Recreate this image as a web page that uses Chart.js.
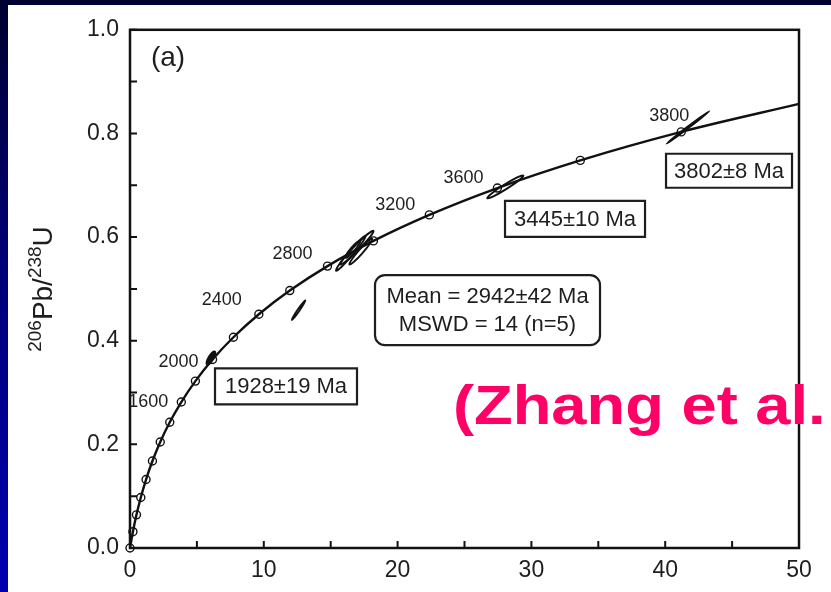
<html>
  <head>
    <meta charset="UTF-8">
    <title>Concordia (a)</title>
    <script src="https://cdn.jsdelivr.net/npm/chart.js"></script>
    <style>
  body {
    margin: 0;
    width: 831px;
    height: 592px;
    overflow: hidden;
    background: linear-gradient(180deg, #000030 0%, #000078 45%, #0000b0 100%);
  }
  #panel {
    position: absolute;
    left: 8px;
    top: 5px;
    width: 823px;
    height: 587px;
    background: #ffffff;
  }
</style>
  </head>
  <body>
    <div id="panel"><canvas id="concordia" width="823" height="587"></canvas></div>
    <script>
    // ages along the concordia (Ma) and their ratios
    const ages = [0, 200, 400, 600, 800, 1000, 1200, 1400, 1600, 1800, 2000, 2200, 2400, 2600, 2800, 3000, 3200, 3400, 3600, 3800];
    const pb207u235 = [0, 0.218, 0.483, 0.806, 1.199, 1.677, 2.260, 2.970, 3.835, 4.887, 6.169, 7.729, 9.629, 11.943, 14.761, 18.193, 22.372, 27.459, 33.654, 41.198];
    const pb206u238 = [0, 0.0315, 0.0640, 0.0975, 0.1321, 0.1678, 0.2046, 0.2426, 0.2817, 0.3221, 0.3638, 0.4067, 0.4511, 0.4968, 0.5440, 0.5926, 0.6428, 0.6946, 0.7480, 0.8030];
    // where the curve leaves the frame
    const tailX = [50];
    const tailY = [0.857];

    // ages that carry a label, and their text
    const labelAges = [1600, 2000, 2400, 2800, 3200, 3400, 3800];
    const labelText = ['1600', '2000', '2400', '2800', '3200', '3600', '3800'];

    // error ellipses: long axis end points [x1, y1, x2, y2]
    const ellipses = [
      [5.75, 0.354, 6.35, 0.379],
      [12.1, 0.440, 13.1, 0.478],
      [15.4, 0.535, 17.6, 0.602],
      [15.7, 0.547, 18.2, 0.612],
      [16.1, 0.560, 17.2, 0.593],
      [16.4, 0.547, 18.1, 0.597],
      [26.7, 0.675, 29.4, 0.719],
      [40.1, 0.780, 43.3, 0.843]
    ];

    const xTicks = [0, 10, 20, 30, 40, 50];
    const yTicks = ['0.0', '0.2', '0.4', '0.6', '0.8', '1.0'];

    const FONT = '"Liberation Sans", Arial, sans-serif';
    const INK = '#1e1e1e';

    const curvePts = pb207u235.concat(tailX).map((x, i) => ({ x: x, y: pb206u238.concat(tailY)[i] }));
    const agePts = pb207u235.map((x, i) => ({ x: x, y: pb206u238[i] }));

    // small helper for the annotation boxes
    function box(ctx, cx, cy, w, h, r) {
      ctx.beginPath();
      if (r) ctx.roundRect(cx - w / 2, cy - h / 2, w, h, r);
      else ctx.rect(cx - w / 2, cy - h / 2, w, h);
      ctx.fillStyle = '#fff';
      ctx.fill();
      ctx.lineWidth = 2.2;
      ctx.strokeStyle = INK;
      ctx.stroke();
    }

    const decorations = {
      id: 'decorations',
      afterDatasetsDraw(chart) {
        const ctx = chart.ctx;
        const xs = chart.scales.x, ys = chart.scales.y;
        const a = chart.chartArea;
        ctx.save();

        // error ellipses
        const minor = [2.4, 1.0, 2.4, 2.6, 2.0, 2.2, 2.4, 0.8];
        ellipses.forEach((e, i) => {
          const x1 = xs.getPixelForValue(e[0]), y1 = ys.getPixelForValue(e[1]);
          const x2 = xs.getPixelForValue(e[2]), y2 = ys.getPixelForValue(e[3]);
          const len = Math.hypot(x2 - x1, y2 - y1) / 2;
          const ang = Math.atan2(y2 - y1, x2 - x1);
          ctx.beginPath();
          ctx.ellipse((x1 + x2) / 2, (y1 + y2) / 2, len, minor[i], ang, 0, Math.PI * 2);
          ctx.lineWidth = 1.9;
          ctx.strokeStyle = '#111';
          ctx.stroke();
          if (i === 0) { ctx.fillStyle = '#111'; ctx.fill(); }
        });

        // frame
        ctx.lineWidth = 2.5;
        ctx.strokeStyle = '#111';
        ctx.strokeRect(a.left, a.top, a.right - a.left, a.bottom - a.top);

        // inward ticks on left and bottom
        ctx.lineWidth = 2;
        ctx.beginPath();
        xs.ticks.forEach(t => {
          const px = xs.getPixelForValue(t.value);
          ctx.moveTo(px, a.bottom); ctx.lineTo(px, a.bottom - 7);
        });
        ys.ticks.forEach(t => {
          const py = ys.getPixelForValue(t.value);
          ctx.moveTo(a.left, py); ctx.lineTo(a.left + 7, py);
        });
        ctx.stroke();

        // age labels along the curve
        const offs = [[-33, 0], [-34, 3], [-37, -14], [-35, -12], [-34, -10], [-34, -10], [-12, -16]];
        ctx.fillStyle = INK;
        ctx.font = '18px ' + FONT;
        ctx.textAlign = 'center';
        ctx.textBaseline = 'middle';
        labelAges.forEach((age, i) => {
          const k = ages.indexOf(age);
          const px = xs.getPixelForValue(pb207u235[k]), py = ys.getPixelForValue(pb206u238[k]);
          ctx.fillText(labelText[i], px + offs[i][0], py + offs[i][1]);
        });

        // panel tag
        ctx.font = '28px ' + FONT;
        ctx.fillText('(a)', xs.getPixelForValue(2.84), ys.getPixelForValue(0.945));

        // boxed ages
        ctx.font = '22px ' + FONT;
        [['1928±19 Ma', 11.66, 0.312, 142, 36],
         ['3445±10 Ma', 33.26, 0.635, 140, 36],
         ['3802±8 Ma', 44.77, 0.728, 126, 34]].forEach(b => {
          const cx = xs.getPixelForValue(b[1]), cy = ys.getPixelForValue(b[2]);
          box(ctx, cx, cy, b[3], b[4], 0);
          ctx.fillStyle = INK;
          ctx.fillText(b[0], cx, cy + 1);
        });

        // mean box
        const mx = xs.getPixelForValue(26.72), my = ys.getPixelForValue(0.459);
        box(ctx, mx, my, 225, 70, 10);
        ctx.fillStyle = INK;
        ctx.fillText('Mean = 2942±42 Ma', mx, my - 13);
        ctx.fillText('MSWD = 14 (n=5)', mx, my + 15);

        // y axis title 206Pb/238U
        ctx.translate(32, 284);
        ctx.rotate(-Math.PI / 2);
        const big = '28px ' + FONT, small = '19px ' + FONT;
        const parts = [['206', small, -11], ['Pb/', big, 0], ['238', small, -11], ['U', big, 0]];
        let total = 0;
        parts.forEach(p => { ctx.font = p[1]; total += ctx.measureText(p[0]).width; });
        let x = -total / 2;
        ctx.textAlign = 'left';
        ctx.textBaseline = 'alphabetic';
        parts.forEach(p => {
          ctx.font = p[1];
          ctx.fillText(p[0], x, 12 + p[2]);
          x += ctx.measureText(p[0]).width;
        });
        ctx.restore();

        // citation overlay
        ctx.save();
        ctx.translate(xs.getPixelForValue(24.14), ys.getPixelForValue(0.239));
        ctx.scale(1.13, 1);
        ctx.font = 'bold 56px ' + FONT;
        ctx.fillStyle = '#ff0066';
        ctx.textAlign = 'left';
        ctx.textBaseline = 'alphabetic';
        ctx.fillText('(Zhang et al.', 0, 0);
        ctx.restore();
      }
    };

    window.onload = function() {
      new Chart(document.getElementById('concordia').getContext('2d'), {
        type: 'scatter',
        data: {
          datasets: [{
            data: curvePts,
            showLine: true,
            borderColor: '#111',
            borderWidth: 2.4,
            pointRadius: 0,
            cubicInterpolationMode: 'monotone',
            clip: false
          }, {
            data: agePts,
            pointRadius: 4,
            pointBackgroundColor: '#fff',
            pointBorderColor: '#111',
            pointBorderWidth: 1.4,
            clip: false
          }]
        },
        options: {
          responsive: false,
          animation: false,
          layout: { padding: { top: 20, right: 32, left: 0, bottom: 0 } },
          plugins: { legend: { display: false }, tooltip: { enabled: false } },
          scales: {
            x: {
              min: 0, max: 50,
              grid: { display: false, drawTicks: false },
              border: { display: false },
              ticks: {
                stepSize: 5,
                padding: 9,
                maxRotation: 0,
                autoSkip: false,
                color: INK,
                font: { family: FONT, size: 23 },
                callback: (v, i) => i % 2 === 0 ? String(xTicks[i / 2]) : ''
              },
              afterFit: s => { s.height = 44; }
            },
            y: {
              min: 0, max: 1,
              grid: { display: false, drawTicks: false },
              border: { display: false },
              ticks: {
                stepSize: 0.1,
                padding: 11,
                autoSkip: false,
                color: INK,
                font: { family: FONT, size: 23 },
                callback: (v, i) => i % 2 === 0 ? yTicks[i / 2] : ''
              },
              afterFit: s => { s.width = 122; }
            }
          }
        },
        plugins: [decorations]
      });
    };
  </script>
  </body></html>
